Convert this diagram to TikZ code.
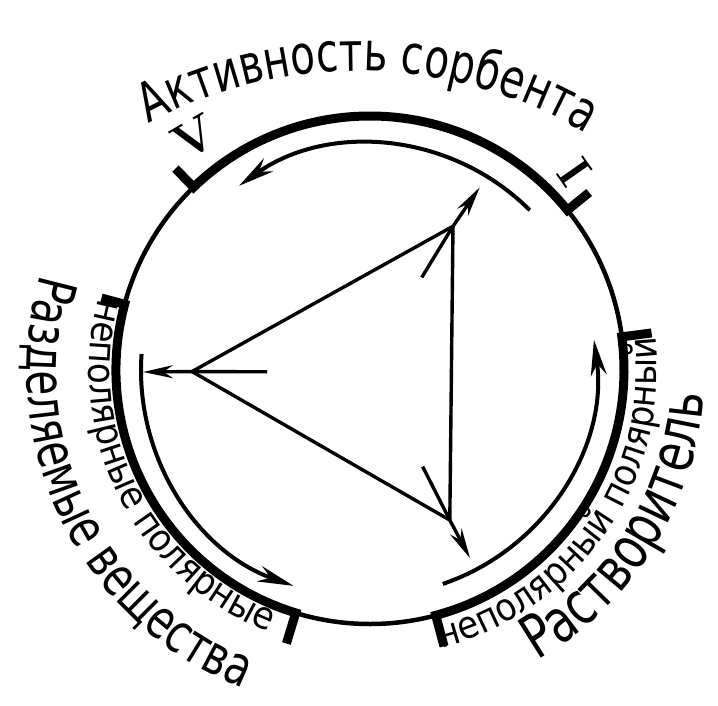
\documentclass[tikz,border=0pt]{standalone}
\usepackage{fontspec}
\newfontfamily\hand[FakeStretch=0.75]{DejaVu Sans}
\newfontfamily\handsmall[FakeStretch=0.9]{DejaVu Sans}
\usetikzlibrary{arrows.meta,decorations.text}

\begin{document}
\begin{tikzpicture}[x=1pt,y=1pt,
    ring/.style={line width=4.5pt},
    rim/.style={line width=9pt,line join=miter},
    turn/.style={line width=4pt,-{Stealth[length=36pt,width=16pt]}},
    push/.style={line width=3.4pt,-{Stealth[length=30pt,width=13pt]}},
    side/.style={line width=3.4pt}]
  \useasboundingbox (-370,-335) rectangle (348,370);
  \draw[ring] (0,0) circle[radius=254];
  \draw[rim] (39:282) -- (39:254) arc[start angle=39,end angle=134,radius=254] -- (134:280);
  \draw[rim] (165:278) -- (165:254) arc[start angle=165,end angle=253,radius=254] -- (253:286);
  \draw[rim] (285:286) -- (285:254) arc[start angle=285,end angle=367.5,radius=254] -- (367.5:284);
  \draw[turn] (45:226) arc[start angle=45,end angle=125.4,radius=226];
  \draw[turn] (176:229) arc[start angle=176,end angle=250.5,radius=229];
  \draw[turn] (288.8:226) arc[start angle=288.8,end angle=367.7,radius=226];
  \coordinate (top) at (60:166);
  \coordinate (left) at (180.5:178);
  \coordinate (bot) at (-62:170);
  \coordinate (topin) at (60.8:106);
  \coordinate (leftin) at (181:103);
  \coordinate (botin) at (-61.4:110);
  \coordinate (topout) at (59:213);
  \coordinate (leftout) at (180.5:227);
  \coordinate (botout) at (-62:213);
  \draw[side,line join=miter] (top) -- (left) -- (bot) -- cycle;
  \draw[side] (topin) -- (top);
  \draw[side] (leftin) -- (left);
  \draw[side] (botin) -- (bot);
  \draw[push] (top) -- (topout);
  \draw[push] (left) -- (leftout);
  \draw[push] (bot) -- (botout);
  \node[rotate=30,font=\fontsize{50}{54}\selectfont\bfseries] (five) at (127:292) {V};
  \node[rotate=-55,font=\fontsize{48}{52}\selectfont\bfseries] (one) at (44:284) {I};
  \path[shift={(-11.7,-145.8)},decorate,decoration={text along path,text align=center,
    text={|\hand\fontsize{54}{60}\selectfont|Активность сорбента}}]
    (117.2:445) arc[start angle=117.2,end angle=60.1,radius=445];
  \path[decorate,decoration={text along path,text align=center,
    text={|\hand\fontsize{54}{60}\selectfont|Разделяемые вещества}}]
    (162:343) arc[start angle=162,end angle=250,radius=343];
  \path[decorate,decoration={text along path,text align=center,
    text={|\hand\fontsize{60}{66}\selectfont|Растворитель}}]
    (297.7:335) arc[start angle=297.7,end angle=358,radius=335];
  \path[decorate,decoration={text along path,text align=center,
    text={|\handsmall\fontsize{38}{42}\selectfont|неполярные полярные}}]
    (165:281) arc[start angle=165,end angle=249,radius=281];
  \path[decorate,decoration={text along path,text align=center,
    text={|\handsmall\fontsize{38}{42}\selectfont|неполярный полярный}}]
    (285:287) arc[start angle=285,end angle=366,radius=287];
\end{tikzpicture}
\end{document}
